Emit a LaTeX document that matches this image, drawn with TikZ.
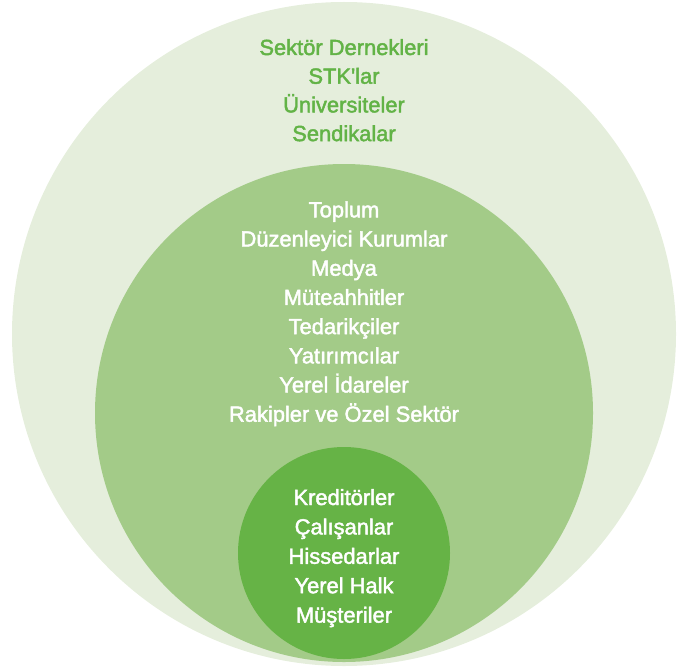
\documentclass[tikz,border=0pt]{standalone}
\usepackage{fontspec}
\newfontfamily\lab{Liberation Sans}[FakeBold=2]
\definecolor{outerfill}{HTML}{E5EEDC}
\definecolor{midfill}{HTML}{A3CB88}
\definecolor{innerfill}{HTML}{66B346}
\definecolor{outertext}{HTML}{62B346}
\begin{document}
\begin{tikzpicture}[x=1pt,y=-1pt,
  lbl/.style={anchor=base, inner sep=0pt, font=\lab\fontsize{21.9pt}{24pt}\selectfont},
  darklbl/.style={lbl, text=outertext},
  whitelbl/.style={lbl, text=white}]
\useasboundingbox (0,0) rectangle (679,666);
\fill[outerfill] (344,334) circle[radius=332pt];
\fill[midfill] (344,413) circle[radius=249pt];
\fill[innerfill] (344,553) circle[radius=106pt];
\foreach \t [count=\i] in {Sektör Dernekleri, STK'lar, Üniversiteler, Sendikalar}
  \node[darklbl, name=o\i] at (344, {55+28.7*(\i-1)}) {\t};
\foreach \t [count=\i] in {Toplum, Düzenleyici Kurumlar, Medya, Müteahhitler, Tedarikçiler, Yatırımcılar, Yerel İdareler, Rakipler ve Özel Sektör}
  \node[whitelbl, name=m\i] at (344, {217.3+29.2*(\i-1)}) {\t};
\foreach \t [count=\i] in {Kreditörler, Çalışanlar, Hissedarlar, Yerel Halk, Müşteriler}
  \node[whitelbl, name=c\i] at (344, {505+29.4*(\i-1)}) {\t};
\end{tikzpicture}
\end{document}
